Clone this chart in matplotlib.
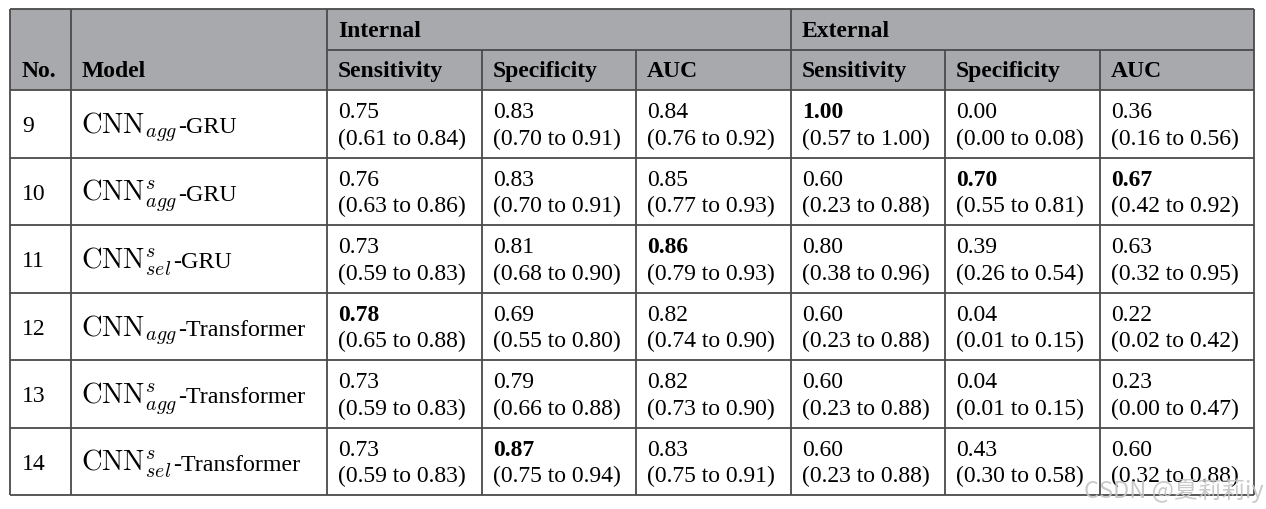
import matplotlib
matplotlib.use("Agg")
import matplotlib.pyplot as plt

plt.rcParams['mathtext.fontset'] = 'cm'

# ---------------- data ----------------
nos = [9, 10, 11, 12, 13, 14]
models = [r"$\mathrm{CNN}_{agg}$-GRU",
          r"$\mathrm{CNN}^{s}_{agg}$-GRU",
          r"$\mathrm{CNN}^{s}_{sel}$-GRU",
          r"$\mathrm{CNN}_{agg}$-Transformer",
          r"$\mathrm{CNN}^{s}_{agg}$-Transformer",
          r"$\mathrm{CNN}^{s}_{sel}$-Transformer"]
groups = ["Internal", "External"]
metrics = ["Sensitivity", "Specificity", "AUC"]

# (estimate, lower, upper) per row
int_sens = [(0.75, 0.61, 0.84), (0.76, 0.63, 0.86), (0.73, 0.59, 0.83),
            (0.78, 0.65, 0.88), (0.73, 0.59, 0.83), (0.73, 0.59, 0.83)]
int_spec = [(0.83, 0.70, 0.91), (0.83, 0.70, 0.91), (0.81, 0.68, 0.90),
            (0.69, 0.55, 0.80), (0.79, 0.66, 0.88), (0.87, 0.75, 0.94)]
int_auc = [(0.84, 0.76, 0.92), (0.85, 0.77, 0.93), (0.86, 0.79, 0.93),
           (0.82, 0.74, 0.90), (0.82, 0.73, 0.90), (0.83, 0.75, 0.91)]
ext_sens = [(1.00, 0.57, 1.00), (0.60, 0.23, 0.88), (0.80, 0.38, 0.96),
            (0.60, 0.23, 0.88), (0.60, 0.23, 0.88), (0.60, 0.23, 0.88)]
ext_spec = [(0.00, 0.00, 0.08), (0.70, 0.55, 0.81), (0.39, 0.26, 0.54),
            (0.04, 0.01, 0.15), (0.04, 0.01, 0.15), (0.43, 0.30, 0.58)]
ext_auc = [(0.36, 0.16, 0.56), (0.67, 0.42, 0.92), (0.63, 0.32, 0.95),
           (0.22, 0.02, 0.42), (0.23, 0.00, 0.47), (0.60, 0.32, 0.88)]
columns = [int_sens, int_spec, int_auc, ext_sens, ext_spec, ext_auc]

# bold (row index, column index) cells = best values
bold_cells = [(0, 3), (1, 4), (1, 5), (2, 2), (3, 0), (5, 1)]

watermark = "CSDN @夏莉莉iy"

# ---------------- layout ----------------
W, H = 1266, 510
col_x = [10, 71, 327, 482, 636, 791, 945, 1100, 1254]
y_top, y_mid, y_head = 10, 51, 91
row_h = (496 - 91) / 6
header_fill = "#a7a9ac"
line_col = "#4a4a4a"
lw = 1.3
fs = 17
fs_math = 20.5
serif = ["Liberation Serif", "DejaVu Serif"]

fig = plt.figure(figsize=(W / 100, H / 100), dpi=100)
ax = fig.add_axes([0, 0, 1, 1])
ax.set_xlim(0, W)
ax.set_ylim(H, 0)
ax.axis("off")
renderer = fig.canvas.get_renderer()

y_bot = y_head + row_h * len(nos)

# header fill
ax.add_patch(plt.Rectangle((col_x[0], y_top), col_x[-1] - col_x[0], y_head - y_top,
                           facecolor=header_fill, edgecolor="none", zorder=0))

# horizontal lines
ax.hlines([y_top, y_head, y_bot], col_x[0], col_x[-1], color=line_col, lw=lw)
ax.hlines(y_mid, col_x[2], col_x[-1], color=line_col, lw=lw)
for i in range(1, len(nos)):
    ax.hlines(y_head + i * row_h, col_x[0], col_x[-1], color=line_col, lw=lw)
# vertical lines
for i, x in enumerate(col_x):
    top = y_top if i in (0, 1, 2, 5, 8) else y_mid
    ax.vlines(x, top, y_bot, color=line_col, lw=lw)

pad = 11
# headers
ax.text(22, y_mid + 26, "No.", fontsize=fs, fontweight="bold", family=serif, va="baseline")
ax.text(82, y_mid + 26, "Model", fontsize=fs, fontweight="bold", family=serif, va="baseline")
for g, gname in enumerate(groups):
    ax.text(col_x[2 + 3 * g] + pad, y_top + 27, gname, fontsize=fs, fontweight="bold",
            family=serif, va="baseline")
    for m, mname in enumerate(metrics):
        ax.text(col_x[2 + 3 * g + m] + pad, y_mid + 26, mname, fontsize=fs,
                fontweight="bold", family=serif, va="baseline")

# body
inv = ax.transData.inverted()
for r, (no, model) in enumerate(zip(nos, models)):
    top = y_head + r * row_h
    ax.text(22, top + 41.5, str(no), fontsize=fs, family=serif, va="baseline")
    cut = model.rindex("$") + 1
    math_part, suffix = model[:cut], model[cut:]
    t = ax.text(81, top + 42.5, math_part, fontsize=fs_math, family=serif, va="baseline")
    bb = t.get_window_extent(renderer)
    x_end = inv.transform((bb.x1, bb.y0))[0]
    ax.text(x_end + 1.5, top + 42.5, suffix, fontsize=fs + 0.3, family=serif, va="baseline")
    for c, col in enumerate(columns):
        est, lo, hi = col[r]
        x = col_x[2 + c] + pad
        ax.text(x, top + 27.5, f"{est:.2f}", fontsize=fs, family=serif, va="baseline",
                fontweight="bold" if (r, c) in bold_cells else "normal")
        ax.text(x, top + 54, f"({lo:.2f} to {hi:.2f})", fontsize=fs, family=serif,
                va="baseline")

ax.text(1264, 498, watermark, fontsize=17, color="#c4c4c4", alpha=0.9,
        family=["Noto Sans CJK SC", "DejaVu Sans"], ha="right", va="baseline")

fig.savefig("out.png", dpi=100)
